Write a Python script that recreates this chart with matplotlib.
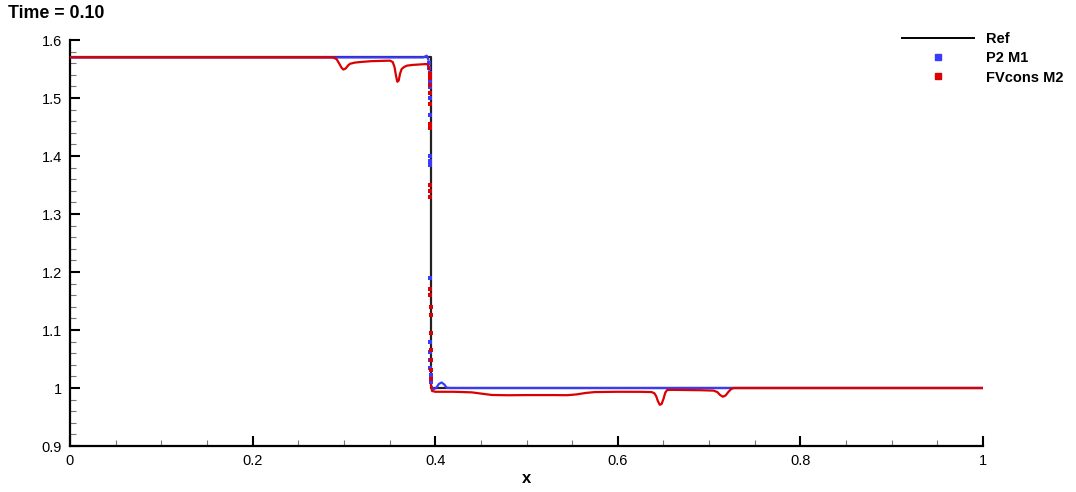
import matplotlib
matplotlib.use('Agg')
import matplotlib.pyplot as plt
from matplotlib.lines import Line2D
from matplotlib.ticker import MultipleLocator, FuncFormatter

plt.rcParams['font.family'] = ['Liberation Sans', 'DejaVu Sans']

# Reference solution (exact shock)
ref_x = [0.0, 0.3953, 0.3953, 1.0]
ref_y = [1.57, 1.57, 1.0, 1.0]

# P2 M1 - smooth parts
p2_left_x = [0.0, 0.387, 0.3907, 0.3925]
p2_left_y = [1.57, 1.57, 1.573, 1.566]
p2_right_x = [0.3960, 0.3985, 0.4010, 0.4040, 0.4070, 0.4100, 0.4125, 0.416, 1.0]
p2_right_y = [1.002, 0.998, 1.000, 1.007, 1.0095, 1.006, 1.0005, 1.0, 1.0]
# P2 M1 - points inside the shock
p2_shock_x = [0.3935, 0.3937, 0.3938, 0.3940, 0.3938, 0.3940, 0.3941, 0.3942, 0.3941,
              0.3943, 0.3942, 0.3945, 0.3946, 0.3947, 0.3948, 0.3950, 0.3952]
p2_shock_y = [1.560, 1.552, 1.543, 1.528, 1.519, 1.500, 1.470, 1.400, 1.392,
              1.385, 1.190, 1.079, 1.062, 1.048, 1.035, 1.022, 1.010]

# FVcons M2 - smooth parts
fv_left_x = [0.0, 0.288, 0.292, 0.295, 0.2975, 0.2995, 0.302, 0.3045, 0.3067, 0.312,
             0.3176, 0.33, 0.3505, 0.3535, 0.3555, 0.357, 0.3585, 0.360, 0.3615, 0.3633,
             0.3655, 0.3688, 0.375, 0.385, 0.3907, 0.3925, 0.3935]
fv_left_y = [1.57, 1.57, 1.567, 1.559, 1.552, 1.549, 1.551, 1.556, 1.559, 1.561,
             1.562, 1.5635, 1.5644, 1.562, 1.553, 1.539, 1.528, 1.530, 1.542, 1.550,
             1.553, 1.5557, 1.557, 1.558, 1.5586, 1.556, 1.549]
fv_right_x = [0.3955, 0.3965, 0.400, 0.420, 0.440, 0.452, 0.462, 0.480, 0.500, 0.530,
              0.545, 0.555, 0.565, 0.575, 0.600, 0.625, 0.637, 0.640, 0.642, 0.644,
              0.646, 0.648, 0.650, 0.652, 0.654, 0.658, 0.670, 0.690, 0.705, 0.709,
              0.712, 0.715, 0.718, 0.721, 0.724, 0.727, 1.0]
fv_right_y = [1.005, 0.995, 0.9935, 0.9935, 0.9925, 0.990, 0.988, 0.9875, 0.9878, 0.9878,
              0.9876, 0.989, 0.9915, 0.9930, 0.9935, 0.9934, 0.9930, 0.9910, 0.986, 0.977,
              0.971, 0.9725, 0.981, 0.992, 0.9965, 0.9968, 0.9966, 0.9962, 0.9955, 0.993,
              0.988, 0.985, 0.987, 0.993, 0.998, 1.0, 1.0]
# FVcons M2 - points inside the shock
fv_shock_x = [0.3940, 0.3941, 0.3942, 0.3943, 0.3942, 0.3944, 0.3943, 0.3945, 0.3946,
              0.3946, 0.3947, 0.3948, 0.3949, 0.3950, 0.3951, 0.3952, 0.3953, 0.3954, 0.3955]
fv_shock_y = [1.542, 1.535, 1.522, 1.508, 1.490, 1.456, 1.448, 1.350, 1.340,
              1.330, 1.170, 1.160, 1.140, 1.126, 1.095, 1.066, 1.048, 1.031, 1.015]

blue = '#3a3aff'
red = '#dc0000'

fig = plt.figure(figsize=(10.76, 4.92), dpi=100)
ax = fig.add_axes([70 / 1076, 1 - 446 / 492, 913 / 1076, 406 / 492])

ax.plot(ref_x, ref_y, color='#222222', lw=1.6, zorder=2)
ax.plot(p2_left_x, p2_left_y, color=blue, lw=1.6, zorder=3)
ax.plot(p2_right_x, p2_right_y, color=blue, lw=1.6, zorder=3)
ax.plot(p2_shock_x, p2_shock_y, 's', color=blue, ms=2.2, mew=0, zorder=3)
ax.plot(fv_left_x, fv_left_y, color=red, lw=1.6, zorder=4)
ax.plot(fv_right_x, fv_right_y, color=red, lw=1.6, zorder=4)
ax.plot(fv_shock_x, fv_shock_y, 's', color=red, ms=2.2, mew=0, zorder=4)

ax.set_xlim(0, 1)
ax.set_ylim(0.9, 1.6)
ax.spines['top'].set_visible(False)
ax.spines['right'].set_visible(False)
for s in ['left', 'bottom']:
    ax.spines[s].set_linewidth(1.6)
ax.xaxis.set_major_locator(MultipleLocator(0.2))
ax.xaxis.set_minor_locator(MultipleLocator(0.05))
ax.yaxis.set_major_locator(MultipleLocator(0.1))
ax.yaxis.set_minor_locator(MultipleLocator(0.02))
fmt = FuncFormatter(lambda v, p: '%g' % round(v, 3))
ax.xaxis.set_major_formatter(fmt)
ax.yaxis.set_major_formatter(fmt)
ax.tick_params(which='major', direction='in', length=7, width=1.5, labelsize=10.5, pad=6)
ax.tick_params(which='minor', direction='in', length=4, width=0.8, color='#777777')
ax.set_xlabel('x', fontsize=12, fontweight='bold', labelpad=2)

fig.text(8 / 1076, 1 - 14 / 492, 'Time = 0.10', fontsize=12.8, fontweight='bold', va='center')

handles = [Line2D([], [], color='black', lw=1.4),
           Line2D([], [], color=blue, marker='s', ls='', ms=4),
           Line2D([], [], color=red, marker='s', ls='', ms=4)]
ax.legend(handles, ['Ref', 'P2 M1', 'FVcons M2'], loc='upper left',
          bbox_to_anchor=(895 / 1076, 1 - 25 / 492), bbox_transform=fig.transFigure,
          frameon=False, borderpad=0, handlelength=4.9, handletextpad=0.85,
          labelspacing=0.35, prop={'weight': 'bold', 'size': 10.5})

fig.savefig('out.png', dpi=100)
